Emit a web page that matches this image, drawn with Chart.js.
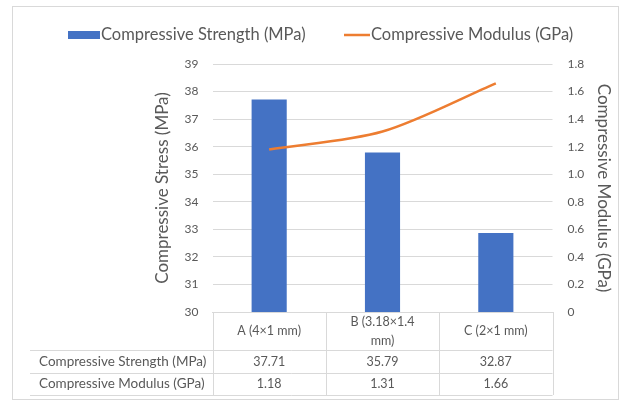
<!DOCTYPE html>
<html>
<head>
<meta charset="utf-8">
<script src="https://cdn.jsdelivr.net/npm/chart.js@4/dist/chart.umd.min.js"></script>
<style>
  html, body { margin: 0; padding: 0; background: #ffffff; }
  #wrap { width: 624px; height: 405px; position: relative; }
</style>
</head>
<body>
<div id="wrap"><canvas id="c" width="624" height="405"></canvas></div>
<script>
// Specimen geometries (category labels, wrapped as in the data table)
const categories = [['A (4×1 mm)'], ['B (3.18×1.4', 'mm)'], ['C (2×1 mm)']];
// Measured values
const strengthMPa = [37.71, 35.79, 32.87];
const modulusGPa = [1.18, 1.31, 1.66];
const seriesNames = ['Compressive Strength (MPa)', 'Compressive Modulus (GPa)'];
// Axis tick values
const stressTicks = [30, 31, 32, 33, 34, 35, 36, 37, 38, 39];
const modulusTicks = [0, 0.2, 0.4, 0.6, 0.8, 1, 1.2, 1.4, 1.6, 1.8];

const BLUE = '#4472C4';
const ORANGE = '#ED7D31';
const TEXT = '#595959';
const RULE = '#D9D9D9';
const FONT = 'Lato, "Open Sans", "DejaVu Sans", sans-serif';

// Legend, data table under the plot and the outer frame
const decorations = {
  id: 'decorations',
  afterDraw(chart) {
    const { ctx, chartArea, scales } = chart;
    const x = scales.x;
    ctx.save();

    // outer frame
    ctx.strokeStyle = RULE;
    ctx.lineWidth = 1;
    ctx.strokeRect(12.5, 6.5, 606, 393);

    // legend
    const ly = 35;
    ctx.fillStyle = BLUE;
    ctx.fillRect(68, ly - 4, 32, 8);
    ctx.strokeStyle = ORANGE;
    ctx.lineWidth = 2.5;
    ctx.beginPath();
    ctx.moveTo(344, ly);
    ctx.lineTo(370, ly);
    ctx.stroke();
    ctx.fillStyle = TEXT;
    ctx.font = '16.5px ' + FONT;
    ctx.textAlign = 'left';
    ctx.textBaseline = 'middle';
    ctx.fillText(seriesNames[0], 101, ly);
    ctx.fillText(seriesNames[1], 371, ly);

    // data table
    const top = chartArea.bottom;
    const tableLeft = 30;
    const rowLines = [top + 38, top + 61, top + 83];
    const half = (x.getPixelForValue(1) - x.getPixelForValue(0)) / 2;
    const bounds = [];
    for (let i = 0; i < categories.length; i++) bounds.push(x.getPixelForValue(i) - half);
    bounds.push(x.getPixelForValue(categories.length - 1) + half);

    ctx.strokeStyle = RULE;
    ctx.lineWidth = 1;
    ctx.beginPath();
    rowLines.forEach(y => {
      ctx.moveTo(tableLeft, Math.round(y) + 0.5);
      ctx.lineTo(bounds[bounds.length - 1], Math.round(y) + 0.5);
    });
    bounds.forEach(bx => {
      ctx.moveTo(Math.round(bx) + 0.5, top);
      ctx.lineTo(Math.round(bx) + 0.5, rowLines[2]);
    });
    ctx.stroke();

    ctx.fillStyle = TEXT;
    ctx.font = '12.5px ' + FONT;
    ctx.textAlign = 'center';
    ctx.textBaseline = 'middle';
    const headMid = (top + rowLines[0]) / 2;
    categories.forEach((lines, i) => {
      const cx = x.getPixelForValue(i);
      const lh = 19;
      const y0 = headMid - (lines.length - 1) * lh / 2;
      lines.forEach((t, k) => ctx.fillText(t, cx, y0 + k * lh));
    });
    const rows = [strengthMPa, modulusGPa];
    rows.forEach((vals, r) => {
      const cy = (rowLines[r] + rowLines[r + 1]) / 2;
      ctx.textAlign = 'left';
      ctx.font = '13.5px ' + FONT;
      ctx.fillText(seriesNames[r], 39, cy);
      ctx.textAlign = 'center';
      ctx.font = '12.5px ' + FONT;
      vals.forEach((v, i) => ctx.fillText(v.toFixed(2), x.getPixelForValue(i), cy));
    });
    ctx.restore();
  }
};

new Chart(document.getElementById('c'), {
  data: {
    labels: categories,
    datasets: [
      {
        type: 'line',
        label: seriesNames[1],
        data: modulusGPa,
        yAxisID: 'y1',
        borderColor: ORANGE,
        backgroundColor: ORANGE,
        borderWidth: 2.5,
        pointRadius: 0,
        tension: 0.3,
        order: 0
      },
      {
        type: 'bar',
        label: seriesNames[0],
        data: strengthMPa,
        yAxisID: 'y',
        backgroundColor: BLUE,
        categoryPercentage: 1,
        barPercentage: 0.31,
        order: 1
      }
    ]
  },
  options: {
    responsive: false,
    animation: false,
    devicePixelRatio: 1,
    layout: { padding: { top: 64, left: 0, right: 0, bottom: 0 } },
    plugins: { legend: { display: false }, tooltip: { enabled: false } },
    scales: {
      x: {
        type: 'category',
        offset: true,
        grid: { display: false },
        border: { display: true, color: RULE },
        ticks: { display: false },
        afterFit(s) { s.height = 93; }
      },
      y: {
        type: 'linear',
        position: 'left',
        min: stressTicks[0],
        max: stressTicks[stressTicks.length - 1],
        afterBuildTicks(s) { s.ticks = stressTicks.map(v => ({ value: v })); },
        grid: { color: RULE, drawTicks: false },
        border: { display: false },
        ticks: { color: TEXT, font: { family: FONT, size: 12 }, padding: 14 },
        title: {
          display: true,
          text: 'Compressive Stress (MPa)',
          color: TEXT,
          font: { family: FONT, size: 17 },
          padding: { top: 152, bottom: 0 }
        },
        afterFit(s) { s.width = 212.5; }
      },
      y1: {
        type: 'linear',
        position: 'right',
        min: modulusTicks[0],
        max: modulusTicks[modulusTicks.length - 1],
        afterBuildTicks(s) { s.ticks = modulusTicks.map(v => ({ value: v })); },
        grid: { display: false, drawTicks: false },
        border: { display: false },
        ticks: { color: TEXT, font: { family: FONT, size: 12 }, padding: 15 },
        title: {
          display: true,
          text: 'Compressive Modulus (GPa)',
          color: TEXT,
          font: { family: FONT, size: 17 },
          padding: { top: 10, bottom: 0 }
        },
        afterFit(s) { s.width = 71.5; }
      }
    }
  },
  plugins: [decorations]
});
</script>
</body>
</html>
